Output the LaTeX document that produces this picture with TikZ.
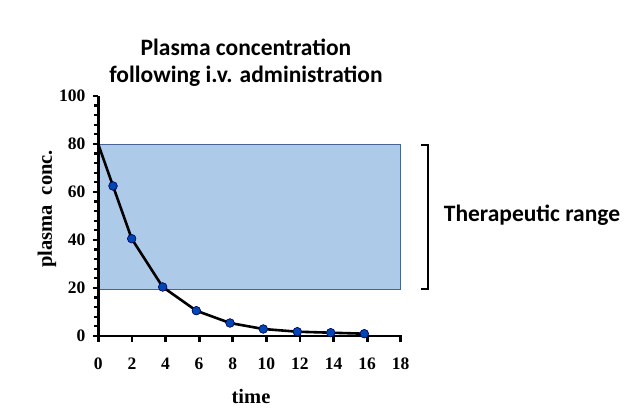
\documentclass[tikz,border=0pt]{standalone}
\usepackage{fontspec}
\setmainfont{Liberation Serif}
\newfontfamily\carlitofam{Carlito}
\begin{document}
\begin{tikzpicture}[x=1pt,y=-1pt,
  dot/.style={circle,fill=blue!60!cyan!70!black,draw=blue!40!black,line width=0.5pt,inner sep=0pt,minimum size=8.5pt},
  ttl/.style={font=\carlitofam\bfseries\fontsize{23.5}{27}\selectfont,align=center},
  num/.style={font=\bfseries\fontsize{17.5}{20}\selectfont},
  lab/.style={font=\bfseries\fontsize{20.5}{23}\selectfont},
  axis/.style={line width=2.8pt},
  curve/.style={line width=2.6pt,line join=round}]
\useasboundingbox (0,0) rectangle (641,417);
\fill[fill={rgb,255:red,173;green,203;blue,233},draw={rgb,255:red,70;green,100;blue,150},line width=0.6pt] (98.3,144.3) rectangle (400.7,289);
% axes
\draw[axis] (98.3,96) -- (98.3,336) -- (402,336);
\foreach \i in {0,...,25} \draw[line width=2.2pt] (98.3,336-9.6*\i) -- (94,336-9.6*\i);
\foreach \v in {0,20,...,100} {\draw[line width=2.6pt] (98.3,336-2.4*\v) -- (92.5,336-2.4*\v);
  \node[num,anchor=east] at (89,336-2.4*\v) {\v};}
\foreach \t in {0,2,...,18} {\draw[line width=2.8pt] (98.3+16.8*\t,336) -- (98.3+16.8*\t,342);
  \node[num] at (98.3+16.8*\t,364) {\t};}
\node[lab] (xl) at (251,396) {time};
\node[lab,rotate=90] (yl) at (47,209) {plasma\ \ conc.};
\node[ttl] (title) at (246,63) {Plasma concentration\\following i.v. administration};
% data
\coordinate (p0) at (98.3,144.3);
\node[dot] (p1) at (113,186) {};
\node[dot] (p2) at (131.7,238.7) {};
\node[dot] (p3) at (162.7,287) {};
\node[dot] (p4) at (196.3,310.7) {};
\node[dot] (p5) at (230,323) {};
\node[dot] (p6) at (263.3,329) {};
\node[dot] (p7) at (297.3,331.7) {};
\node[dot] (p8) at (330.7,332.7) {};
\node[dot] (p9) at (364.3,333.7) {};
\draw[curve] (p0) -- (p1.center) -- (p2.center) -- (p3.center) -- (p4.center) -- (p5.center) -- (p6.center) -- (p7.center) -- (p8.center) -- (p9.center);
\foreach \i in {1,...,9} \node[dot] at (p\i) {};
% bracket
\coordinate (b1) at (421,145);
\coordinate (b2) at (421,289);
\draw[line width=1.3pt] (b1) -- (428,145) -- (428,289) -- (b2);
\node[ttl] (tr) at (532,215) {Therapeutic range};
\end{tikzpicture}
\end{document}
